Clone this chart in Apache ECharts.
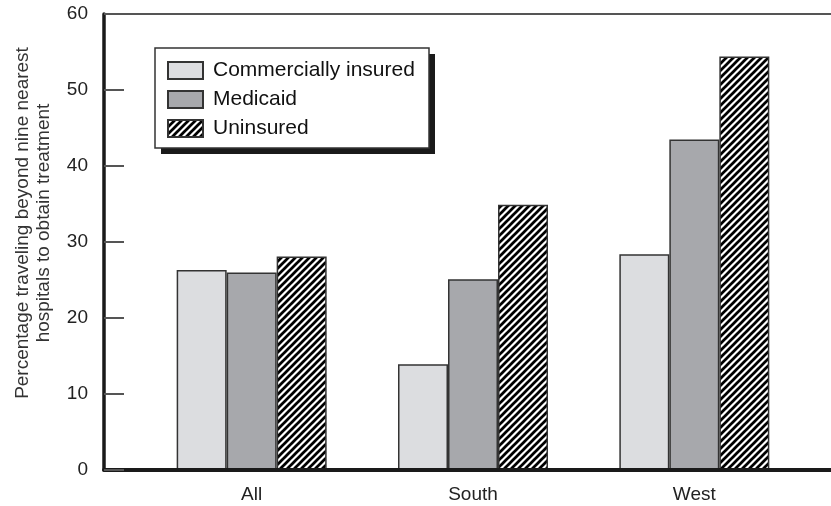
<!DOCTYPE html>
<html lang="en">
    <head>
        <meta charset="utf-8">
        <title>Travel beyond nine nearest hospitals</title>
        <style>
            html, body { margin: 0; padding: 0; background: #fff; }
        </style>
    </head>
    <body>
        <div id="main" style="width: 831px;height:506px;"></div>
        <script src="https://cdn.jsdelivr.net/npm/echarts@6/dist/echarts.min.js"></script>
        <script type="text/javascript">
            var regions = ['All', 'South', 'West'];
            var commercial = [26.3, 13.9, 28.4];
            var medicaid = [26.0, 25.1, 43.5];
            var uninsured = [28.1, 34.9, 54.4];
            var yTicks = [0, 10, 20, 30, 40, 50, 60];

            var font = 'Liberation Sans, Arial, sans-serif';

            // diagonal hatch for the uninsured bars
            function makeHatch() {
                var n = 7;
                var c = document.createElement('canvas');
                c.width = n;
                c.height = n;
                var ctx = c.getContext('2d');
                ctx.fillStyle = '#fff';
                ctx.fillRect(0, 0, n, n);
                ctx.strokeStyle = '#000';
                ctx.lineWidth = 2.7;
                [0, n, 2 * n].forEach(function(k) {
                    ctx.beginPath();
                    ctx.moveTo(k + 2, -2);
                    ctx.lineTo(-2, k + 2);
                    ctx.stroke();
                });
                return c;
            }
            var hatch = {image: makeHatch(), repeat: 'repeat'};

            var myChart = echarts.init(document.getElementById('main'));

            var option = {
                backgroundColor: '#fff',
                animation: false,
                textStyle: {fontFamily: font},
                // legend box with its drop shadow
                graphic: [{
                        type: 'rect',
                        z: 3,
                        shape: {x: 161, y: 54, width: 274, height: 100},
                        style: {fill: '#1a1a1a'}
                    }, {
                        type: 'rect',
                        z: 3,
                        shape: {x: 155, y: 48, width: 274, height: 100},
                        style: {fill: '#fff', stroke: '#333', lineWidth: 1.5}
                    }],
                legend: {
                    orient: 'vertical',
                    left: 155,
                    top: 48,
                    padding: [12, 12, 12, 12],
                    icon: 'rect',
                    itemWidth: 35,
                    itemHeight: 17,
                    itemGap: 8,
                    textStyle: {
                        fontSize: 21,
                        lineHeight: 17,
                        color: '#111',
                        padding: [0, 0, 0, 5],
                        fontFamily: font
                    },
                    data: ['Commercially insured', 'Medicaid', 'Uninsured']
                },
                grid: [
                    // frame: axis lines and ticks
                    {left: 104, right: -10, top: 14, bottom: 36},
                    // bars
                    {left: 141, right: 26, top: 14, bottom: 36}
                ],
                xAxis: [{
                        gridIndex: 0,
                        type: 'value',
                        min: 0,
                        max: 1,
                        position: 'bottom',
                        z: 5,
                        axisLine: {lineStyle: {color: '#1a1a1a', width: 4}},
                        axisTick: {show: false},
                        axisLabel: {show: false},
                        splitLine: {show: false}
                    }, {
                        gridIndex: 0,
                        type: 'value',
                        min: 0,
                        max: 1,
                        position: 'top',
                        axisLine: {lineStyle: {color: '#555', width: 2}},
                        axisTick: {show: false},
                        axisLabel: {show: false},
                        splitLine: {show: false}
                    }, {
                        gridIndex: 1,
                        type: 'category',
                        data: regions,
                        axisLine: {show: false},
                        axisTick: {show: false},
                        axisLabel: {
                            margin: 15,
                            fontSize: 19,
                            color: '#222',
                            fontFamily: font
                        }
                    }],
                yAxis: [{
                        gridIndex: 0,
                        type: 'value',
                        min: yTicks[0],
                        max: yTicks[yTicks.length - 1],
                        interval: 10,
                        z: 5,
                        name: 'Percentage traveling beyond nine nearest\nhospitals to obtain treatment',
                        nameLocation: 'middle',
                        nameGap: 50,
                        nameTextStyle: {
                            fontSize: 19,
                            color: '#333',
                            lineHeight: 21,
                            padding: [0, 0, 0, 38],
                            fontFamily: font
                        },
                        axisLine: {show: true, lineStyle: {color: '#1a1a1a', width: 3.5}},
                        axisTick: {
                            show: true,
                            inside: true,
                            length: 20,
                            lineStyle: {color: '#555', width: 2}
                        },
                        axisLabel: {
                            margin: 16,
                            fontSize: 19,
                            color: '#222',
                            fontFamily: font
                        },
                        splitLine: {show: false}
                    }, {
                        gridIndex: 1,
                        type: 'value',
                        min: 0,
                        max: 60,
                        show: false
                    }],
                series: [{
                        name: 'Commercially insured',
                        type: 'bar',
                        xAxisIndex: 2,
                        yAxisIndex: 1,
                        barWidth: 50,
                        barGap: 0,
                        itemStyle: {color: '#dcdde0', borderColor: '#333', borderWidth: 1.5},
                        data: commercial
                    }, {
                        name: 'Medicaid',
                        type: 'bar',
                        xAxisIndex: 2,
                        yAxisIndex: 1,
                        barWidth: 50,
                        barGap: 0,
                        itemStyle: {color: '#a7a8ac', borderColor: '#333', borderWidth: 1.5},
                        data: medicaid
                    }, {
                        name: 'Uninsured',
                        type: 'bar',
                        xAxisIndex: 2,
                        yAxisIndex: 1,
                        barWidth: 50,
                        barGap: 0,
                        itemStyle: {color: hatch, borderColor: '#333', borderWidth: 1.5},
                        data: uninsured
                    }]
            };
            myChart.setOption(option);
        </script>
    </body>
</html>
